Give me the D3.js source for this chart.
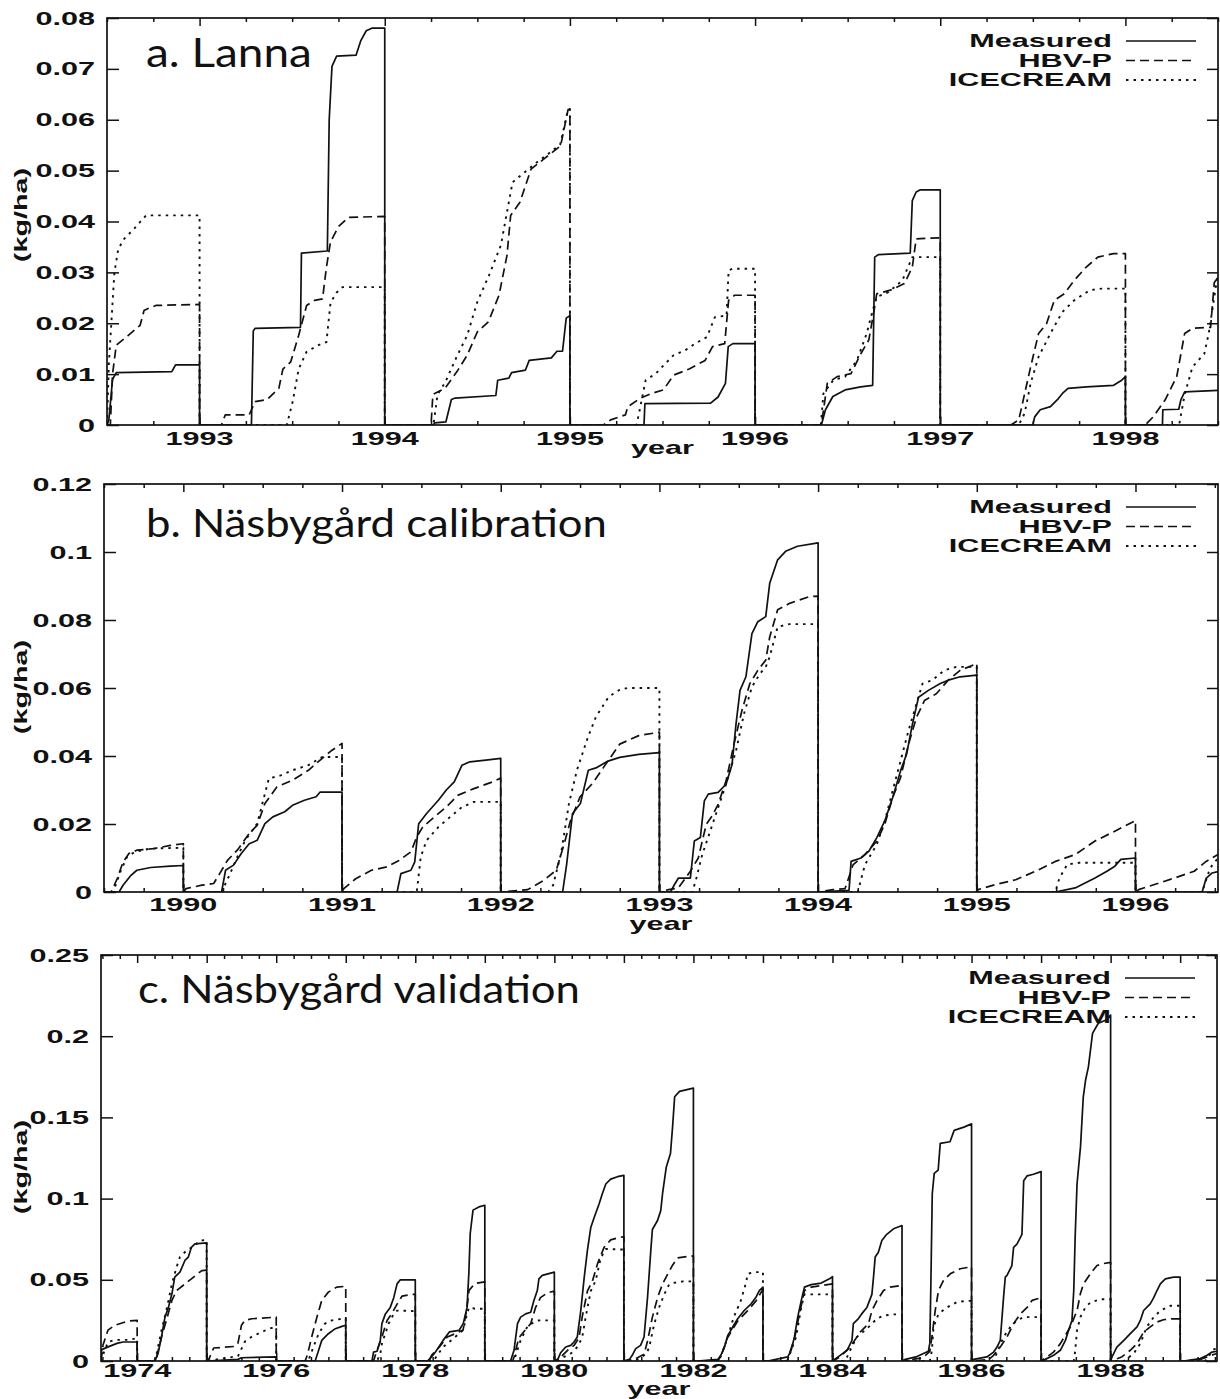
<!DOCTYPE html>
<html>
<head>
<meta charset="utf-8">
<script src="https://cdn.jsdelivr.net/npm/d3@7"></script>
<style>
  body { margin: 0; background: #fff; }
  svg { display: block; }
  .lab { font-family: "Liberation Sans", Arial, sans-serif; font-weight: bold; font-size: 18px; fill: #111; }
  .title { font-family: Lato, "Noto Sans", sans-serif; font-weight: 400; fill: #111; }
</style>
</head>
<body>
<div id="chart"></div>
<script>
// ---- data: cumulative load (kg/ha), each inner array is one year, [year, value] ----
const seriesNames = ["Measured", "HBV-P", "ICECREAM"];
const panelTitles = ["a. Lanna", "b. Näsbygård calibration", "c. Näsbygård validation"];

const lannaRange = [1992.5, 1998.5];
const lannaYears = [1993, 1994, 1995, 1996, 1997, 1998];
const lannaYTicks = [0, 0.01, 0.02, 0.03, 0.04, 0.05, 0.06, 0.07, 0.08];

const lannaMeasured = [
  [[1992.5,0],[1992.51,0.001],[1992.53,0.009],[1992.55,0.0103],[1992.85,0.0105],[1992.87,0.0118],[1993.0,0.0118]],
  [[1993.0,0],[1993.28,0],[1993.29,0.0185],[1993.30,0.019],[1993.545,0.0192],[1993.55,0.0338],[1993.69,0.0342],[1993.70,0.060],[1993.715,0.0705],[1993.74,0.0725],[1993.845,0.0727],[1993.87,0.0755],[1993.90,0.0775],[1993.93,0.078],[1994.0,0.078]],
  [[1994.0,0],[1994.26,0],[1994.27,0.0004],[1994.33,0.0006],[1994.36,0.005],[1994.38,0.0053],[1994.60,0.0058],[1994.61,0.0088],[1994.67,0.0092],[1994.685,0.0103],[1994.76,0.0108],[1994.78,0.0127],[1994.90,0.0132],[1994.93,0.0145],[1994.96,0.0145],[1994.98,0.021],[1995.0,0.0215]],
  [[1995.0,0],[1995.40,0],[1995.405,0.0042],[1995.76,0.0043],[1995.80,0.0055],[1995.84,0.0082],[1995.855,0.0154],[1995.88,0.016],[1996.0,0.016]],
  [[1996.0,0],[1996.358,0],[1996.38,0.003],[1996.42,0.0056],[1996.486,0.0069],[1996.57,0.0075],[1996.635,0.0078],[1996.646,0.033],[1996.667,0.0335],[1996.838,0.0338],[1996.849,0.0441],[1996.87,0.0458],[1996.89,0.0462],[1997.0,0.0462]],
  [[1997.0,0],[1997.50,0],[1997.51,0.0016],[1997.54,0.003],[1997.595,0.0036],[1997.638,0.0052],[1997.66,0.0062],[1997.69,0.0072],[1997.79,0.0075],[1997.936,0.0078],[1997.98,0.0088],[1998.0,0.0095]],
  [[1998.0,0],[1998.2,0],[1998.202,0.003],[1998.288,0.0031],[1998.30,0.005],[1998.32,0.0065],[1998.5,0.0068]]
];
const lannaHbv = [
  [[1992.5,0],[1992.518,0],[1992.53,0.01],[1992.55,0.0157],[1992.615,0.0176],[1992.679,0.0196],[1992.70,0.0225],[1992.722,0.0229],[1992.764,0.0235],[1993.0,0.0237]],
  [[1993.0,0],[1993.118,0],[1993.139,0.002],[1993.268,0.002],[1993.30,0.0046],[1993.364,0.005],[1993.428,0.0072],[1993.45,0.011],[1993.492,0.0124],[1993.535,0.0176],[1993.578,0.0235],[1993.621,0.0245],[1993.664,0.0248],[1993.685,0.031],[1993.707,0.036],[1993.75,0.039],[1993.803,0.0408],[1994.0,0.041]],
  [[1994.0,0],[1994.25,0],[1994.26,0.006],[1994.325,0.0072],[1994.39,0.0105],[1994.445,0.0137],[1994.50,0.0183],[1994.56,0.0203],[1994.617,0.0255],[1994.66,0.0333],[1994.68,0.0412],[1994.73,0.0438],[1994.79,0.0503],[1994.86,0.0523],[1994.95,0.0549],[1994.99,0.062],[1995.0,0.062]],
  [[1995.0,0],[1995.18,0],[1995.22,0.001],[1995.30,0.002],[1995.313,0.0036],[1995.377,0.0052],[1995.44,0.0062],[1995.505,0.0069],[1995.56,0.0098],[1995.644,0.011],[1995.73,0.0127],[1995.77,0.0154],[1995.836,0.016],[1995.857,0.0245],[1995.889,0.0255],[1996.0,0.0255]],
  [[1996.0,0],[1996.358,0],[1996.39,0.0082],[1996.443,0.0095],[1996.518,0.0101],[1996.571,0.014],[1996.614,0.0167],[1996.646,0.0232],[1996.657,0.0258],[1996.731,0.0265],[1996.806,0.0278],[1996.849,0.031],[1996.87,0.0366],[1997.0,0.0368]],
  [[1997.0,0],[1997.382,0],[1997.424,0.001],[1997.456,0.0062],[1997.488,0.0114],[1997.531,0.018],[1997.574,0.0199],[1997.616,0.0245],[1997.67,0.0258],[1997.723,0.0284],[1997.787,0.031],[1997.851,0.033],[1997.936,0.0337],[1998.0,0.0337]],
  [[1998.0,0],[1998.107,0],[1998.15,0.0016],[1998.214,0.0049],[1998.277,0.0095],[1998.32,0.018],[1998.362,0.019],[1998.46,0.0192],[1998.48,0.028],[1998.5,0.029]]
];
const lannaIcecream = [
  [[1992.5,0],[1992.51,0.012],[1992.54,0.030],[1992.561,0.0346],[1992.593,0.0366],[1992.647,0.0386],[1992.711,0.0412],[1993.0,0.0412]],
  [[1993.0,0],[1993.471,0],[1993.503,0.0046],[1993.535,0.011],[1993.578,0.0144],[1993.642,0.0157],[1993.685,0.0163],[1993.707,0.024],[1993.739,0.026],[1993.771,0.0271],[1994.0,0.0271]],
  [[1994.0,0],[1994.263,0],[1994.285,0.006],[1994.328,0.0085],[1994.392,0.0137],[1994.445,0.0176],[1994.50,0.0242],[1994.563,0.0294],[1994.627,0.0353],[1994.69,0.0477],[1994.756,0.0497],[1994.82,0.0516],[1994.884,0.0533],[1994.948,0.0552],[1994.99,0.0621],[1995.0,0.0621]],
  [[1995.0,0],[1995.36,0],[1995.377,0.003],[1995.409,0.0088],[1995.463,0.0101],[1995.559,0.0137],[1995.623,0.0147],[1995.676,0.016],[1995.74,0.0173],[1995.783,0.0212],[1995.846,0.0215],[1995.857,0.0304],[1995.878,0.0307],[1996.0,0.0307]],
  [[1996.0,0],[1996.355,0],[1996.369,0.0062],[1996.422,0.0088],[1996.486,0.0095],[1996.55,0.0127],[1996.603,0.018],[1996.635,0.0225],[1996.657,0.0252],[1996.72,0.0261],[1996.795,0.0284],[1996.849,0.033],[1997.0,0.033]],
  [[1997.0,0],[1997.424,0],[1997.456,0.0023],[1997.488,0.0082],[1997.531,0.0134],[1997.595,0.018],[1997.659,0.0222],[1997.723,0.0245],[1997.808,0.0265],[1997.872,0.0268],[1998.0,0.0268]],
  [[1998.0,0],[1998.29,0],[1998.298,0.0016],[1998.32,0.006],[1998.362,0.0114],[1998.426,0.014],[1998.45,0.018],[1998.5,0.03]]
];

const calibRange = [1989.5, 1996.52];
const calibYears = [1990, 1991, 1992, 1993, 1994, 1995, 1996];
const calibYTicks = [0, 0.02, 0.04, 0.06, 0.08, 0.1, 0.12];

const calibMeasured = [
  [[1989.5,0],[1989.595,0],[1989.62,0.002],[1989.67,0.0049],[1989.707,0.0064],[1989.794,0.0072],[1989.918,0.0076],[1990.0,0.0078]],
  [[1990.0,0],[1990.241,0],[1990.266,0.0064],[1990.316,0.0079],[1990.365,0.0113],[1990.415,0.0142],[1990.465,0.0152],[1990.514,0.0201],[1990.564,0.0221],[1990.639,0.0236],[1990.688,0.0255],[1990.763,0.027],[1990.837,0.028],[1990.862,0.0294],[1991.0,0.0294]],
  [[1991.0,0],[1991.347,0],[1991.371,0.0054],[1991.434,0.0064],[1991.458,0.0088],[1991.483,0.0201],[1991.533,0.0231],[1991.607,0.027],[1991.657,0.030],[1991.707,0.0324],[1991.756,0.0373],[1991.806,0.0383],[1991.906,0.0388],[1992.0,0.0393]],
  [[1992.0,0],[1992.39,0],[1992.415,0.008],[1992.452,0.023],[1992.502,0.026],[1992.552,0.0358],[1992.60,0.0365],[1992.676,0.0385],[1992.75,0.0396],[1992.87,0.0405],[1993.0,0.041]],
  [[1993.0,0],[1993.07,0],[1993.095,0.0022],[1993.12,0.0041],[1993.195,0.0041],[1993.22,0.015],[1993.258,0.016],[1993.283,0.0268],[1993.308,0.0288],[1993.37,0.0293],[1993.42,0.0317],[1993.458,0.0376],[1993.483,0.0495],[1993.508,0.0593],[1993.545,0.0633],[1993.583,0.076],[1993.62,0.0795],[1993.67,0.081],[1993.695,0.0908],[1993.745,0.0977],[1993.795,0.1002],[1993.87,0.1017],[1994.0,0.1027]],
  [[1994.0,0],[1994.195,0.0005],[1994.208,0.009],[1994.27,0.010],[1994.32,0.012],[1994.37,0.016],[1994.42,0.0209],[1994.47,0.0278],[1994.52,0.0357],[1994.558,0.0406],[1994.595,0.0495],[1994.633,0.0573],[1994.695,0.0593],[1994.77,0.0613],[1994.82,0.0623],[1994.895,0.0633],[1995.0,0.0638]],
  [[1995.0,0],[1995.495,0],[1995.62,0.0012],[1995.745,0.0041],[1995.82,0.0061],[1995.87,0.0076],[1995.908,0.0096],[1996.0,0.010]],
  [[1996.0,0],[1996.42,0],[1996.445,0.004],[1996.483,0.0056],[1996.52,0.006]]
];
const calibHbv = [
  [[1989.5,0],[1989.545,0],[1989.583,0.0039],[1989.62,0.0088],[1989.657,0.0113],[1989.707,0.0123],[1989.819,0.0128],[1989.918,0.0137],[1990.0,0.0142]],
  [[1990.0,0],[1990.017,0.001],[1990.117,0.002],[1990.191,0.0025],[1990.229,0.0054],[1990.278,0.0093],[1990.34,0.0123],[1990.415,0.0172],[1990.465,0.0196],[1990.514,0.026],[1990.589,0.0309],[1990.688,0.0329],[1990.788,0.0358],[1990.862,0.0388],[1990.937,0.0417],[1991.0,0.0437]],
  [[1991.0,0],[1991.011,0.001],[1991.086,0.0039],[1991.185,0.0064],[1991.284,0.0074],[1991.359,0.0093],[1991.434,0.0118],[1991.471,0.0162],[1991.508,0.0191],[1991.583,0.0221],[1991.657,0.025],[1991.732,0.0285],[1991.831,0.0304],[1991.955,0.0325],[1992.0,0.0335]],
  [[1992.0,0],[1992.17,0.0007],[1992.27,0.0034],[1992.35,0.0064],[1992.40,0.0142],[1992.44,0.021],[1992.50,0.028],[1992.58,0.032],[1992.65,0.0368],[1992.75,0.0435],[1992.87,0.046],[1993.0,0.047]],
  [[1993.0,0],[1993.058,0.0007],[1993.12,0.0012],[1993.195,0.0061],[1993.245,0.010],[1993.295,0.0199],[1993.333,0.0224],[1993.37,0.0258],[1993.42,0.0327],[1993.47,0.0435],[1993.52,0.0534],[1993.57,0.0613],[1993.62,0.0652],[1993.67,0.0682],[1993.695,0.075],[1993.745,0.083],[1993.82,0.0849],[1993.945,0.0869],[1994.0,0.087]],
  [[1994.0,0],[1994.095,0.0007],[1994.17,0.001],[1994.22,0.008],[1994.295,0.011],[1994.37,0.015],[1994.42,0.0199],[1994.47,0.0278],[1994.52,0.0337],[1994.57,0.0435],[1994.62,0.0514],[1994.67,0.0563],[1994.745,0.0583],[1994.82,0.0623],[1994.895,0.0652],[1995.0,0.0672]],
  [[1995.0,0],[1995.008,0.0007],[1995.12,0.0022],[1995.245,0.0036],[1995.37,0.0061],[1995.495,0.009],[1995.62,0.011],[1995.745,0.015],[1995.87,0.0179],[1996.0,0.021]],
  [[1996.0,0],[1996.02,0.0007],[1996.12,0.0022],[1996.245,0.0041],[1996.37,0.0061],[1996.445,0.009],[1996.52,0.011]]
];
const calibIcecream = [
  [[1989.5,0],[1989.558,0],[1989.607,0.0064],[1989.645,0.0103],[1989.694,0.0118],[1989.794,0.0128],[1990.0,0.013]],
  [[1990.0,0],[1990.241,0],[1990.29,0.0049],[1990.34,0.0103],[1990.39,0.0152],[1990.465,0.0201],[1990.539,0.0334],[1990.614,0.0343],[1990.688,0.0358],[1990.788,0.0373],[1990.875,0.0397],[1991.0,0.0397]],
  [[1991.0,0],[1991.471,0],[1991.496,0.0103],[1991.533,0.0152],[1991.607,0.0191],[1991.682,0.0221],[1991.756,0.025],[1991.831,0.0265],[1992.0,0.0265]],
  [[1992.0,0],[1992.3,0],[1992.33,0.002],[1992.38,0.0113],[1992.43,0.026],[1992.48,0.0358],[1992.55,0.0456],[1992.60,0.0515],[1992.68,0.0574],[1992.75,0.0595],[1992.8,0.060],[1993.0,0.060]],
  [[1993.0,0],[1993.208,0],[1993.233,0.0041],[1993.27,0.011],[1993.32,0.0179],[1993.37,0.0248],[1993.42,0.0317],[1993.483,0.0416],[1993.533,0.0524],[1993.583,0.0603],[1993.633,0.0642],[1993.67,0.0662],[1993.695,0.0692],[1993.745,0.078],[1993.82,0.0788],[1994.0,0.0788]],
  [[1994.0,0],[1994.25,0],[1994.295,0.008],[1994.37,0.014],[1994.42,0.0209],[1994.47,0.0298],[1994.52,0.0386],[1994.57,0.0475],[1994.62,0.0554],[1994.658,0.0613],[1994.72,0.0623],[1994.795,0.0652],[1994.87,0.0662],[1995.0,0.0662]],
  [[1995.0,0],[1995.495,0],[1995.52,0.004],[1995.57,0.0081],[1995.645,0.0086],[1996.0,0.0086]],
  [[1996.0,0],[1996.42,0],[1996.47,0.007],[1996.52,0.010]]
];

const validRange = [1973.48, 1989.53];
const validYears = [1974, 1975, 1976, 1977, 1978, 1979, 1980, 1981, 1982, 1983, 1984, 1985, 1986, 1987, 1988, 1989];
const validYTicks = [0, 0.05, 0.1, 0.15, 0.2, 0.25];

const validMeasured = [
  [[1973.48,0],[1973.49,0.007],[1973.6,0.009],[1973.72,0.011],[1973.8,0.0117],[1974.0,0.0117]],
  [[1974.0,0],[1974.255,0],[1974.30,0.0045],[1974.35,0.0148],[1974.40,0.027],[1974.45,0.033],[1974.50,0.0414],[1974.54,0.0516],[1974.615,0.0547],[1974.687,0.0619],[1974.735,0.0639],[1974.78,0.070],[1974.83,0.0721],[1975.0,0.0727]],
  [[1975.0,0],[1975.45,0.001],[1975.5,0.002],[1976.0,0.0025]],
  [[1976.0,0],[1976.56,0],[1976.61,0.0066],[1976.655,0.0127],[1976.75,0.0168],[1976.85,0.0199],[1976.945,0.0213],[1977.0,0.022]],
  [[1977.0,0],[1977.377,0],[1977.40,0.0055],[1977.45,0.006],[1977.497,0.0127],[1977.52,0.023],[1977.57,0.029],[1977.64,0.033],[1977.69,0.039],[1977.738,0.0475],[1977.785,0.050],[1978.0,0.050]],
  [[1978.0,0],[1978.176,0],[1978.233,0.0025],[1978.29,0.0055],[1978.40,0.0127],[1978.49,0.0179],[1978.63,0.0189],[1978.69,0.023],[1978.744,0.033],[1978.77,0.0538],[1978.79,0.0785],[1978.83,0.0929],[1978.915,0.0949],[1979.0,0.0959]],
  [[1979.0,0],[1979.37,0],[1979.42,0.0066],[1979.47,0.023],[1979.515,0.027],[1979.587,0.029],[1979.66,0.030],[1979.706,0.0373],[1979.755,0.0434],[1979.778,0.0506],[1979.827,0.0527],[1980.0,0.0547]],
  [[1980.0,0],[1980.05,0.001],[1980.09,0.0051],[1980.163,0.0086],[1980.235,0.0096],[1980.283,0.0117],[1980.33,0.0148],[1980.38,0.031],[1980.43,0.0516],[1980.475,0.068],[1980.523,0.082],[1980.57,0.0881],[1980.643,0.0967],[1980.69,0.103],[1980.74,0.109],[1980.81,0.112],[1980.908,0.1135],[1981.0,0.1143]],
  [[1981.0,0],[1981.08,0.001],[1981.12,0.0035],[1981.17,0.0076],[1981.24,0.0096],[1981.29,0.0148],[1981.34,0.039],[1981.387,0.068],[1981.41,0.081],[1981.484,0.0865],[1981.53,0.0926],[1981.556,0.103],[1981.61,0.1195],[1981.67,0.1278],[1981.70,0.144],[1981.73,0.1627],[1981.80,0.166],[1982.0,0.168]],
  [[1982.0,0],[1982.06,0],[1982.35,0.001],[1982.396,0.0037],[1982.444,0.0082],[1982.49,0.0153],[1982.565,0.0209],[1982.637,0.026],[1982.73,0.0311],[1982.83,0.0352],[1982.9,0.0393],[1982.948,0.0434],[1983.0,0.0455]],
  [[1983.0,0],[1983.07,0],[1983.357,0.0025],[1983.405,0.0066],[1983.453,0.0148],[1983.50,0.027],[1983.55,0.037],[1983.597,0.0455],[1983.693,0.047],[1983.837,0.048],[1983.957,0.0506],[1984.0,0.052]],
  [[1984.0,0],[1984.11,0.0035],[1984.21,0.0066],[1984.28,0.0127],[1984.30,0.023],[1984.37,0.026],[1984.42,0.029],[1984.495,0.033],[1984.567,0.041],[1984.59,0.0516],[1984.614,0.064],[1984.66,0.067],[1984.71,0.0742],[1984.78,0.078],[1984.878,0.0814],[1985.0,0.0834]],
  [[1985.0,0],[1985.05,0.001],[1985.2,0.0025],[1985.3,0.0045],[1985.38,0.006],[1985.40,0.011],[1985.415,0.0475],[1985.435,0.103],[1985.463,0.1155],[1985.52,0.1175],[1985.55,0.134],[1985.69,0.135],[1985.75,0.142],[1985.89,0.144],[1986.0,0.146]],
  [[1986.0,0],[1986.03,0.001],[1986.22,0.0025],[1986.317,0.0055],[1986.366,0.0086],[1986.413,0.0127],[1986.46,0.039],[1986.485,0.0516],[1986.51,0.0527],[1986.58,0.0588],[1986.605,0.070],[1986.653,0.072],[1986.725,0.078],[1986.75,0.111],[1986.8,0.114],[1986.89,0.115],[1987.0,0.1166]],
  [[1987.0,0],[1987.06,0.001],[1987.18,0.0035],[1987.277,0.0066],[1987.35,0.0127],[1987.396,0.0189],[1987.444,0.025],[1987.47,0.0434],[1987.49,0.0762],[1987.517,0.109],[1987.567,0.132],[1987.607,0.1627],[1987.64,0.173],[1987.68,0.181],[1987.74,0.2017],[1987.823,0.208],[1987.937,0.210],[1988.0,0.213]],
  [[1988.0,0],[1988.02,0.0025],[1988.09,0.0086],[1988.19,0.0127],[1988.283,0.0168],[1988.38,0.021],[1988.427,0.025],[1988.475,0.0311],[1988.57,0.0352],[1988.62,0.039],[1988.667,0.0434],[1988.715,0.0475],[1988.787,0.0506],[1988.906,0.0516],[1989.0,0.0516]],
  [[1989.0,0],[1989.05,0],[1989.29,0.0015],[1989.387,0.0035],[1989.46,0.0055],[1989.53,0.006]]
];
const validHbv = [
  [[1973.48,0],[1973.51,0.010],[1973.58,0.019],[1973.68,0.022],[1973.87,0.0246],[1974.0,0.025]],
  [[1974.0,0],[1974.26,0],[1974.28,0.0025],[1974.35,0.0148],[1974.42,0.025],[1974.50,0.0373],[1974.567,0.0434],[1974.66,0.0465],[1974.78,0.0506],[1974.93,0.0557],[1975.0,0.056]],
  [[1975.0,0],[1975.03,0.001],[1975.10,0.008],[1975.41,0.009],[1975.45,0.011],[1975.50,0.022],[1975.55,0.025],[1975.65,0.026],[1976.0,0.027]],
  [[1976.0,0],[1976.416,0],[1976.45,0.004],[1976.51,0.0148],[1976.585,0.027],[1976.655,0.0373],[1976.75,0.0424],[1976.87,0.0455],[1977.0,0.046]],
  [[1977.0,0],[1977.40,0],[1977.425,0.0035],[1977.52,0.0148],[1977.594,0.025],[1977.66,0.029],[1977.738,0.035],[1977.81,0.040],[1977.954,0.041],[1978.0,0.041]],
  [[1978.0,0],[1978.2,0],[1978.233,0.0035],[1978.347,0.0086],[1978.46,0.0148],[1978.574,0.0168],[1978.687,0.019],[1978.744,0.033],[1978.773,0.0435],[1978.858,0.0477],[1979.0,0.0487]],
  [[1979.0,0],[1979.40,0],[1979.42,0.0025],[1979.49,0.0143],[1979.56,0.018],[1979.66,0.023],[1979.73,0.033],[1979.80,0.039],[1979.9,0.042],[1980.0,0.043]],
  [[1980.0,0],[1980.07,0.0015],[1980.19,0.0066],[1980.283,0.0096],[1980.355,0.0143],[1980.40,0.027],[1980.475,0.043],[1980.55,0.0496],[1980.62,0.0598],[1980.715,0.070],[1980.81,0.0746],[1980.908,0.0758],[1981.0,0.0766]],
  [[1981.0,0],[1981.147,0.001],[1981.29,0.0041],[1981.34,0.0123],[1981.41,0.027],[1981.484,0.039],[1981.556,0.0475],[1981.628,0.0533],[1981.70,0.059],[1981.772,0.0635],[1981.916,0.0643],[1982.0,0.0647]],
  [[1982.0,0],[1982.35,0],[1982.396,0.003],[1982.49,0.0143],[1982.637,0.0246],[1982.78,0.031],[1982.9,0.037],[1982.97,0.042],[1983.0,0.044]],
  [[1983.0,0],[1983.35,0],[1983.38,0.0045],[1983.453,0.0137],[1983.525,0.029],[1983.597,0.0434],[1983.693,0.0455],[1983.837,0.0465],[1984.0,0.0475]],
  [[1984.0,0],[1984.11,0.0025],[1984.254,0.0086],[1984.398,0.0178],[1984.518,0.023],[1984.567,0.031],[1984.638,0.037],[1984.734,0.0434],[1984.83,0.0455],[1985.0,0.0465]],
  [[1985.0,0],[1985.3,0.002],[1985.40,0.006],[1985.43,0.0148],[1985.477,0.031],[1985.525,0.0434],[1985.597,0.0496],[1985.694,0.0537],[1985.837,0.0568],[1986.0,0.058]],
  [[1986.0,0],[1986.25,0.001],[1986.317,0.0035],[1986.413,0.0086],[1986.51,0.0148],[1986.605,0.023],[1986.70,0.029],[1986.8,0.033],[1986.87,0.0373],[1987.0,0.039]],
  [[1987.0,0],[1987.085,0.0025],[1987.18,0.0055],[1987.277,0.0107],[1987.42,0.0209],[1987.517,0.031],[1987.565,0.0414],[1987.61,0.0475],[1987.708,0.0537],[1987.804,0.0588],[1987.9,0.060],[1988.0,0.0607]],
  [[1988.0,0],[1988.1,0.0015],[1988.16,0.0025],[1988.283,0.0066],[1988.38,0.0107],[1988.475,0.0178],[1988.57,0.021],[1988.667,0.024],[1988.76,0.0254],[1988.88,0.026],[1989.0,0.026]],
  [[1989.0,0],[1989.1,0],[1989.29,0.001],[1989.387,0.0025],[1989.48,0.004],[1989.53,0.0045]]
];
const validIcecream = [
  [[1973.48,0],[1973.51,0.004],[1973.58,0.0117],[1973.68,0.013],[1973.87,0.013],[1973.99,0.014],[1974.0,0.014]],
  [[1974.0,0],[1974.25,0],[1974.28,0.0045],[1974.35,0.0189],[1974.42,0.031],[1974.50,0.0475],[1974.567,0.0578],[1974.615,0.064],[1974.71,0.068],[1974.83,0.0711],[1974.90,0.0742],[1975.0,0.0745]],
  [[1975.0,0],[1975.45,0.003],[1975.55,0.012],[1975.65,0.015],[1975.8,0.018],[1975.9,0.020],[1976.0,0.021]],
  [[1976.0,0],[1976.46,0],[1976.535,0.0086],[1976.61,0.0168],[1976.70,0.023],[1976.80,0.025],[1976.945,0.026],[1977.0,0.026]],
  [[1977.0,0],[1977.45,0],[1977.497,0.0045],[1977.52,0.0107],[1977.617,0.023],[1977.69,0.029],[1977.738,0.031],[1977.81,0.031],[1978.0,0.0307]],
  [[1978.0,0],[1978.26,0],[1978.40,0.0086],[1978.574,0.0148],[1978.687,0.019],[1978.744,0.029],[1978.773,0.033],[1978.858,0.0322],[1979.0,0.0322]],
  [[1979.0,0],[1979.41,0],[1979.44,0.003],[1979.515,0.0127],[1979.61,0.021],[1979.706,0.024],[1979.778,0.025],[1980.0,0.025]],
  [[1980.0,0],[1980.06,0],[1980.115,0.002],[1980.235,0.0045],[1980.33,0.0086],[1980.40,0.0143],[1980.45,0.027],[1980.523,0.043],[1980.595,0.0496],[1980.667,0.0635],[1980.74,0.069],[1981.0,0.0686]],
  [[1981.0,0],[1981.15,0],[1981.195,0.001],[1981.315,0.0041],[1981.363,0.0082],[1981.435,0.0225],[1981.507,0.033],[1981.58,0.041],[1981.65,0.047],[1981.70,0.048],[1981.85,0.049],[1982.0,0.049]],
  [[1982.0,0],[1982.35,0],[1982.396,0.003],[1982.49,0.0143],[1982.58,0.027],[1982.68,0.037],[1982.756,0.048],[1982.78,0.0537],[1982.87,0.0547],[1983.0,0.0547]],
  [[1983.0,0],[1983.35,0],[1983.38,0.0035],[1983.477,0.0148],[1983.55,0.033],[1983.597,0.041],[1984.0,0.041]],
  [[1984.0,0],[1984.18,0],[1984.21,0.0025],[1984.254,0.0066],[1984.35,0.0148],[1984.495,0.0199],[1984.567,0.023],[1984.638,0.026],[1984.734,0.028],[1984.878,0.0287],[1985.0,0.0287]],
  [[1985.0,0],[1985.40,0],[1985.43,0.0066],[1985.453,0.021],[1985.525,0.029],[1985.646,0.033],[1985.79,0.0363],[1985.93,0.037],[1986.0,0.037]],
  [[1986.0,0],[1986.30,0],[1986.34,0.0025],[1986.46,0.0148],[1986.557,0.0209],[1986.653,0.025],[1986.75,0.027],[1987.0,0.027]],
  [[1987.0,0],[1987.47,0],[1987.49,0.006],[1987.517,0.0189],[1987.565,0.027],[1987.636,0.033],[1987.708,0.036],[1987.85,0.038],[1988.0,0.038]],
  [[1988.0,0],[1988.19,0],[1988.33,0.0045],[1988.427,0.0107],[1988.52,0.021],[1988.62,0.027],[1988.715,0.031],[1988.86,0.034],[1989.0,0.034]],
  [[1989.0,0],[1989.35,0],[1989.387,0.001],[1989.46,0.0066],[1989.53,0.008]]
];

// ---- layout ----
const width = 1220, height = 1399;
const stretch = 1.7; // the scanned lettering is very wide

const panels = [
  { title: panelTitles[0], range: lannaRange, years: lannaYears, yTicks: lannaYTicks, labelEvery: 1,
    series: [lannaMeasured, lannaHbv, lannaIcecream],
    box: { left: 107, right: 1218, top: 18, bottom: 425 }, titleAt: [146, 67, 41],
    xLabDy: 20, yearDy: 29, yearSize: 16, yLabY: 215 },
  { title: panelTitles[1], range: calibRange, years: calibYears, yTicks: calibYTicks, labelEvery: 1,
    series: [calibMeasured, calibHbv, calibIcecream],
    box: { left: 104, right: 1218, top: 484, bottom: 892 }, titleAt: [146, 537, 39],
    xLabDy: 19, yearDy: 38, yearSize: 16, yLabY: 687 },
  { title: panelTitles[2], range: validRange, years: validYears, yTicks: validYTicks, labelEvery: 2,
    series: [validMeasured, validHbv, validIcecream],
    box: { left: 101, right: 1217, top: 955, bottom: 1361 }, titleAt: [138, 1003, 39],
    xLabDy: 16, yearDy: 33.5, yearSize: 15, yLabY: 1167 }
];

const lineStyles = [
  { width: 1.7, dash: null },
  { width: 1.7, dash: "9,5" },
  { width: 1.9, dash: "2.5,5" }
];

const svg = d3.select("#chart").append("svg")
  .attr("width", width).attr("height", height);
svg.append("rect").attr("width", width).attr("height", height).attr("fill", "#fff");

// stretched text helper
function wideText(g, txt, x, y, anchor, size) {
  return g.append("text").attr("class", "lab")
    .attr("font-size", size || null)
    .attr("transform", `translate(${x},${y}) scale(${stretch},1)`)
    .attr("text-anchor", anchor).text(txt);
}

panels.forEach((p, pi) => {
  const b = p.box;
  const g = svg.append("g");

  const x = d3.scaleLinear().domain(p.range).range([b.left, b.right]);
  const y = d3.scaleLinear().domain([0, p.yTicks[p.yTicks.length - 1]]).range([b.bottom, b.top]);

  // quarter-year minor ticks
  const quarters = d3.range(Math.ceil(p.range[0] * 4), Math.floor(p.range[1] * 4) + 1).map(d => d / 4)
    .filter(d => !Number.isInteger(d));

  const axes = [
    [d3.axisBottom(x).tickValues(p.years).tickSize(-8), b.bottom, "x"],
    [d3.axisBottom(x).tickValues(quarters).tickSize(-4), b.bottom, "x"],
    [d3.axisTop(x).tickValues(p.years).tickSize(-8), b.top, "x"],
    [d3.axisTop(x).tickValues(quarters).tickSize(-4), b.top, "x"],
    [d3.axisLeft(y).tickValues(p.yTicks).tickSize(-12), b.left, "y"],
    [d3.axisRight(y).tickValues(p.yTicks).tickSize(-11), b.right, "y"]
  ];
  axes.forEach(([ax, pos, kind]) => {
    const a = g.append("g")
      .attr("transform", kind === "x" ? `translate(0,${pos})` : `translate(${pos},0)`)
      .call(ax.tickFormat(""));
    a.select(".domain").remove();
    a.selectAll("line").attr("stroke", "#111").attr("stroke-width", 1.5);
  });

  // tick labels
  p.yTicks.forEach(v => wideText(g, String(v), b.left - 12, y(v) + 6.5, "end"));
  p.years.filter(yr => (yr - p.years[0]) % p.labelEvery === 0)
    .forEach(yr => wideText(g, String(yr), x(yr), b.bottom + p.xLabDy, "middle"));

  wideText(g, "year", (b.left + b.right) / 2, b.bottom + p.yearDy, "middle", p.yearSize);

  g.append("text").attr("class", "lab")
    .attr("transform", `translate(27,${p.yLabY}) rotate(-90) scale(1.6,1)`)
    .attr("text-anchor", "middle").text("(kg/ha)");

  // frame
  g.append("rect")
    .attr("x", b.left).attr("y", b.top)
    .attr("width", b.right - b.left).attr("height", b.bottom - b.top)
    .attr("fill", "none").attr("stroke", "#111").attr("stroke-width", 1.7);

  // clipped series
  const clipId = "clip" + pi;
  svg.append("clipPath").attr("id", clipId).append("rect")
    .attr("x", b.left).attr("y", b.top - 2)
    .attr("width", b.right - b.left).attr("height", b.bottom - b.top + 2);

  const line = d3.line().x(d => x(d[0])).y(d => y(d[1]));
  const plot = g.append("g").attr("clip-path", `url(#${clipId})`);

  p.series.forEach((segments, si) => {
    const pts = [];
    segments.forEach(seg => {
      seg.forEach(pt => pts.push(pt));
      const last = seg[seg.length - 1];
      if (last[0] < p.range[1] - 0.01) pts.push([last[0], 0]); // reset at year end
    });
    const st = lineStyles[si];
    plot.append("path").datum(pts)
      .attr("d", line)
      .attr("fill", "none").attr("stroke", "#111")
      .attr("stroke-width", st.width)
      .attr("stroke-dasharray", st.dash)
      .attr("stroke-linejoin", "round");
  });

  // title (geometric lettering is wider than Lato)
  g.append("text").attr("class", "title")
    .attr("transform", `translate(${p.titleAt[0]},${p.titleAt[1]}) scale(1.12,1)`)
    .attr("font-size", p.titleAt[2]).text(p.title);

  // legend
  seriesNames.forEach((name, si) => {
    const ly = b.top + 29 + si * 19.5;
    wideText(g, name, b.right - 106, ly, "end");
    const st = lineStyles[si];
    g.append("line")
      .attr("x1", b.right - 92).attr("x2", b.right - 22)
      .attr("y1", ly - 6).attr("y2", ly - 6)
      .attr("stroke", "#111").attr("stroke-width", st.width)
      .attr("stroke-dasharray", st.dash);
  });
});
</script>
</body>
</html>
